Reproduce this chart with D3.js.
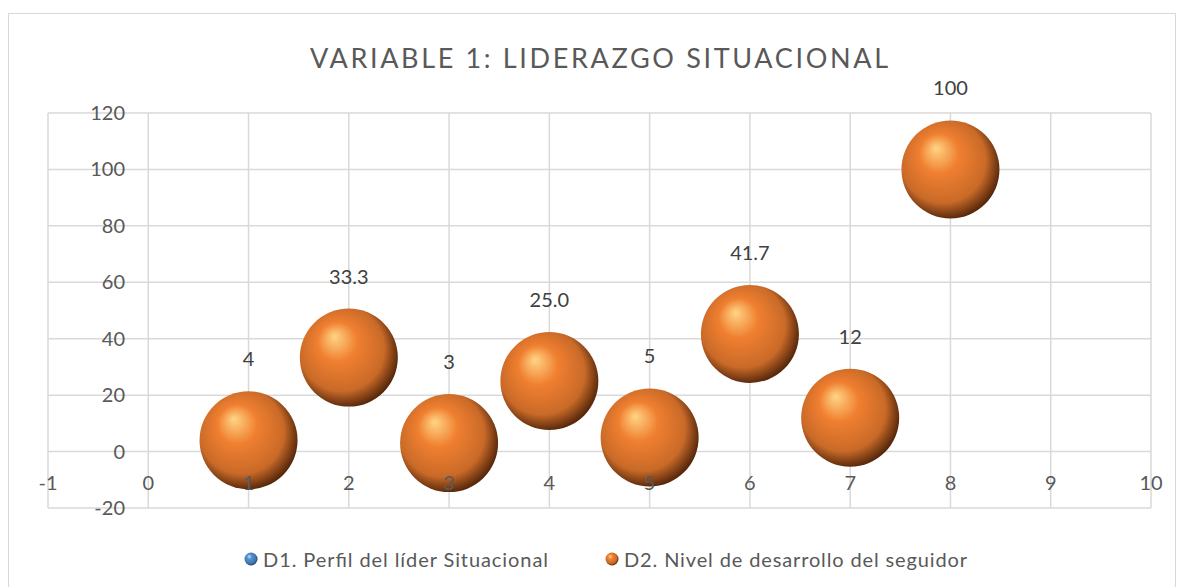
<!DOCTYPE html>
<html>
<head>
<meta charset="utf-8">
<script src="https://cdn.jsdelivr.net/npm/d3@7"></script>
<style>
  body { margin: 0; background: #fff; }
  text { font-family: Lato, "Open Sans", sans-serif; }
</style>
</head>
<body>
<div id="chart"></div>
<script>
// series data
var xValues = [1, 2, 3, 4, 5, 6, 7, 8];
var d2Values = [4, 33.3, 3, 25.0, 5, 41.7, 12, 100];
var d2Labels = ['4', '33.3', '3', '25.0', '5', '41.7', '12', '100'];
var xTicks = [-1, 0, 1, 2, 3, 4, 5, 6, 7, 8, 9, 10];
var yTicks = [-20, 0, 20, 40, 60, 80, 100, 120];
var seriesNames = ['D1. Perfil del líder Situacional', 'D2. Nivel de desarrollo del seguidor'];

var width = 1179, height = 587;

var svg = d3.select('#chart')
	.append('svg')
	.attr('width', width)
	.attr('height', height);

var defs = svg.append('defs');

function sphereGradient(id, light, mid, dark) {
	var g = defs.append('radialGradient')
		.attr('id', id)
		.attr('cx', '45%').attr('cy', '45%').attr('r', '58%')
		.attr('fx', '35%').attr('fy', '28%');
	g.append('stop').attr('offset', '0%').attr('stop-color', light);
	g.append('stop').attr('offset', '35%').attr('stop-color', mid);
	g.append('stop').attr('offset', '75%').attr('stop-color', d3.color(mid).darker(0.5));
	g.append('stop').attr('offset', '100%').attr('stop-color', dark);
}
sphereGradient('orangeBall', '#ffd585', '#f07f30', '#4a2008');
sphereGradient('blueBall', '#bfe0ff', '#4f8fd0', '#163a66');

// outer chart border
svg.append('rect')
	.attr('x', 8.5).attr('y', 13.5)
	.attr('width', 1167).attr('height', 580)
	.attr('fill', 'none')
	.attr('stroke', '#d9d9d9');

var x = d3.scaleLinear().domain([-1, 10]).range([48, 1151]);
var y = d3.scaleLinear().domain([-20, 120]).range([508, 113]);

// gridlines
svg.append('g')
	.selectAll('line')
	.data(xTicks)
	.enter()
	.append('line')
	.attr('x1', function(d) { return x(d); })
	.attr('x2', function(d) { return x(d); })
	.attr('y1', y(120)).attr('y2', y(-20))
	.attr('stroke', '#d9d9d9')
	.attr('stroke-width', 1.5);

svg.append('g')
	.selectAll('line')
	.data(yTicks)
	.enter()
	.append('line')
	.attr('x1', x(-1)).attr('x2', x(10))
	.attr('y1', function(d) { return y(d); })
	.attr('y2', function(d) { return y(d); })
	.attr('stroke', '#d9d9d9')
	.attr('stroke-width', 1.5);

// title
svg.append('text')
	.attr('x', 599).attr('y', 68)
	.attr('text-anchor', 'middle')
	.attr('font-size', 27)
	.attr('fill', '#595959')
	.attr('textLength', 578)
	.text('VARIABLE 1: LIDERAZGO SITUACIONAL');

// bubbles
var data = xValues.map(function(v, i) { return {x: v, y: d2Values[i], label: d2Labels[i]}; });
var r = 49;

svg.append('g')
	.selectAll('circle')
	.data(data)
	.enter()
	.append('circle')
	.attr('cx', function(d) { return x(d.x); })
	.attr('cy', function(d) { return y(d.y); })
	.attr('r', r)
	.attr('fill', 'url(#orangeBall)');

// axis labels on top of bubbles
svg.append('g')
	.selectAll('text')
	.data(yTicks)
	.enter()
	.append('text')
	.attr('x', 125)
	.attr('y', function(d) { return y(d) + 7; })
	.attr('text-anchor', 'end')
	.attr('font-size', 20)
	.attr('fill', '#595959')
	.text(function(d) { return d; });

svg.append('g')
	.selectAll('text')
	.data(xTicks)
	.enter()
	.append('text')
	.attr('x', function(d) { return x(d); })
	.attr('y', 490)
	.attr('text-anchor', 'middle')
	.attr('font-size', 20)
	.attr('fill', '#595959')
	.text(function(d) { return d; });

// data labels
svg.append('g')
	.selectAll('text')
	.data(data)
	.enter()
	.append('text')
	.attr('x', function(d) { return x(d.x); })
	.attr('y', function(d) { return y(d.y) - 74; })
	.attr('text-anchor', 'middle')
	.attr('font-size', 20)
	.attr('fill', '#404040')
	.text(function(d) { return d.label; });

// legend
var legendX = [251, 612];
var legendLen = [285, 343];
var legendFills = ['url(#blueBall)', 'url(#orangeBall)'];
var legend = svg.append('g')
	.selectAll('g')
	.data(seriesNames)
	.enter()
	.append('g')
	.attr('transform', function(d, i) { return 'translate(' + legendX[i] + ',559)'; });

legend.append('circle')
	.attr('r', 6.5)
	.attr('fill', function(d, i) { return legendFills[i]; });

legend.append('text')
	.attr('x', 12)
	.attr('y', 8)
	.attr('font-size', 20)
	.attr('fill', '#595959')
	.attr('textLength', function(d, i) { return legendLen[i]; })
	.text(function(d) { return d; });
</script>
</body>
</html>
